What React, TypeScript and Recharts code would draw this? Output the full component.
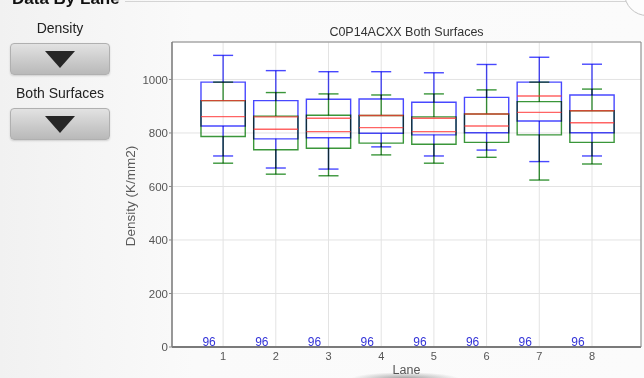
import React from 'react'
import {
  ComposedChart, XAxis, YAxis, CartesianGrid, ReferenceArea, ReferenceLine, Scatter,
} from 'recharts'

const lanes = [1, 2, 3, 4, 5, 6, 7, 8]
const counts = [96, 96, 96, 96, 96, 96, 96, 96]
const yTicks = [0, 200, 400, 600, 800, 1000]

// top surface (blue)
const blueMin = [714, 669, 665, 748, 714, 736, 693, 714]
const blueQ1 = [826, 778, 782, 799, 793, 801, 845, 801]
const blueMed = [921, 860, 855, 865, 855, 871, 938, 883]
const blueQ3 = [990, 921, 926, 927, 915, 933, 990, 942]
const blueMax = [1090, 1033, 1029, 1029, 1025, 1056, 1083, 1057]

// bottom surface (green)
const greenMin = [687, 646, 640, 718, 687, 709, 624, 684]
const greenQ1 = [787, 737, 743, 762, 758, 765, 793, 765]
const greenMed = [861, 814, 805, 820, 805, 826, 877, 838]
const greenQ3 = [921, 863, 866, 865, 860, 871, 917, 883]
const greenMax = [990, 951, 946, 942, 946, 961, 990, 964]

const xDomain = [0.03, 8.93]
const yDomain = [0, 1140]
const BOX = 0.42
const CAP = 0.19

const font = '"Liberation Sans", Arial, sans-serif'

const countData = lanes.map((lane, i) => ({ lane, base: 0, n: counts[i] }))

function boxes(key: string, color: string, min: number[], q1: number[], med: number[], q3: number[], max: number[]) {
  const out: React.ReactNode[] = []
  lanes.forEach((lane, i) => {
    out.push(
      <ReferenceArea key={`${key}-box-${i}`} x1={lane - BOX} x2={lane + BOX} y1={q1[i]} y2={q3[i]}
        fill="none" fillOpacity={0} stroke={color} strokeWidth={1.4} />,
      <ReferenceLine key={`${key}-wu-${i}`} segment={[{ x: lane, y: q3[i] }, { x: lane, y: max[i] }]}
        stroke={color} strokeWidth={1.4} />,
      <ReferenceLine key={`${key}-wl-${i}`} segment={[{ x: lane, y: min[i] }, { x: lane, y: q1[i] }]}
        stroke={color} strokeWidth={1.4} />,
      <ReferenceLine key={`${key}-cu-${i}`} segment={[{ x: lane - CAP, y: max[i] }, { x: lane + CAP, y: max[i] }]}
        stroke={color} strokeWidth={1.4} />,
      <ReferenceLine key={`${key}-cl-${i}`} segment={[{ x: lane - CAP, y: min[i] }, { x: lane + CAP, y: min[i] }]}
        stroke={color} strokeWidth={1.4} />,
    )
  })
  return out
}

function medians(key: string, med: number[]) {
  return lanes.map((lane, i) => (
    <ReferenceLine key={`${key}-med-${i}`} className="med"
      segment={[{ x: lane - BOX, y: med[i] }, { x: lane + BOX, y: med[i] }]}
      stroke="#ff3030" strokeOpacity={0.75} strokeWidth={1.4} />
  ))
}

const renderCount = (p: any) => (
  <text x={p.cx - 14} y={p.cy - 1} textAnchor="middle" fill="#3434d8" fontSize={12} fontFamily={font}>
    {p.payload.n}
  </text>
)

function DropButton({ top }: { top: number }) {
  return (
    <div style={{
      position: 'absolute', left: 10, top, width: 98, height: 30, borderRadius: 4,
      background: 'linear-gradient(#e2e2e2, #c9c9c9 60%, #b9b9b9)', border: '1px solid #b0b0b0',
      boxShadow: '0 1px 2px rgba(0,0,0,0.15)',
    }}>
      <div style={{
        position: 'absolute', left: 34, top: 7, width: 0, height: 0,
        borderLeft: '15px solid transparent', borderRight: '15px solid transparent', borderTop: '17px solid #262626',
      }} />
    </div>
  )
}

export default function App() {
  return (
    <div style={{
      position: 'absolute', left: 0, top: 0, width: 644, height: 378, overflow: 'hidden',
      background: 'linear-gradient(90deg, #f1f1f1, #fafafa 30%, #fbfbfb)', fontFamily: font,
    }}>
      <style>{`
        .recharts-reference-line *, .recharts-reference-area * { mix-blend-mode: multiply; }
        .recharts-reference-line.med * { mix-blend-mode: normal; }
      `}</style>

      <div style={{ position: 'absolute', left: 12, top: -11, fontSize: 17, fontWeight: 'bold', color: '#111' }}>
        Data By Lane
      </div>
      <div style={{ position: 'absolute', left: 125, top: 1, width: 503, height: 1, background: '#d4d4d4' }} />
      <div style={{
        position: 'absolute', left: 624, top: -30, width: 44, height: 44, borderRadius: '50%',
        border: '1px solid #c4c4c4', background: '#fdfdfd',
      }} />

      <div style={{ position: 'absolute', left: 0, top: 20, width: 120, textAlign: 'center', fontSize: 14, color: '#222' }}>
        Density
      </div>
      <DropButton top={43} />
      <div style={{ position: 'absolute', left: 0, top: 85, width: 120, textAlign: 'center', fontSize: 14, color: '#222' }}>
        Both Surfaces
      </div>
      <DropButton top={108} />

      <div style={{ position: 'absolute', left: 172, top: 25, width: 469, textAlign: 'center', fontSize: 12.5, color: '#333' }}>
        C0P14ACXX Both Surfaces
      </div>

      <div style={{ position: 'absolute', left: 0, top: 0 }}>
        <ComposedChart width={644} height={378} margin={{ top: 41, right: 2, bottom: 11, left: 132 }}>
          <CartesianGrid stroke="#e3e3e3" fill="#ffffff" />
          <XAxis dataKey="lane" type="number" domain={xDomain} allowDataOverflow ticks={lanes}
            tick={{ fill: '#555', fontSize: 11, fontFamily: font }} tickLine={false} tickSize={0} tickMargin={5}
            axisLine={{ stroke: '#7a7a7a', strokeWidth: 2 }} height={20} />
          <XAxis xAxisId="top" orientation="top" type="number" domain={xDomain} allowDataOverflow
            tick={false} tickLine={false} axisLine={{ stroke: '#8a8a8a' }} height={1} />
          <YAxis dataKey="base" type="number" domain={yDomain} allowDataOverflow ticks={yTicks}
            tick={{ fill: '#555', fontSize: 11.5, fontFamily: font }} tickSize={3} tickMargin={1}
            tickLine={{ stroke: '#888' }} axisLine={{ stroke: '#7a7a7a', strokeWidth: 1.5 }} width={40} />
          <YAxis yAxisId="right" orientation="right" type="number" domain={yDomain} allowDataOverflow
            tick={false} tickLine={false} axisLine={{ stroke: '#8a8a8a' }} width={1} />

          {boxes('g', '#3a963a', greenMin, greenQ1, greenMed, greenQ3, greenMax)}
          {boxes('b', '#4848ff', blueMin, blueQ1, blueMed, blueQ3, blueMax)}
          {medians('g', greenMed)}
          {medians('b', blueMed)}

          <Scatter data={countData} isAnimationActive={false} shape={renderCount} />
        </ComposedChart>
      </div>

      <div style={{
        position: 'absolute', left: 130, top: 196, transform: 'translate(-50%, -50%) rotate(-90deg)',
        whiteSpace: 'nowrap', fontSize: 13.5, color: '#5a5a5a',
      }}>
        Density (K/mm2)
      </div>
      <div style={{
        position: 'absolute', left: 350, top: 372, width: 110, height: 14, borderRadius: '50%',
        background: 'radial-gradient(ellipse at center, rgba(60,60,60,0.5), rgba(60,60,60,0) 70%)',
      }} />
      <div style={{ position: 'absolute', left: 172, top: 363, width: 469, textAlign: 'center', fontSize: 12.5, color: '#555' }}>
        Lane
      </div>
    </div>
  )
}
